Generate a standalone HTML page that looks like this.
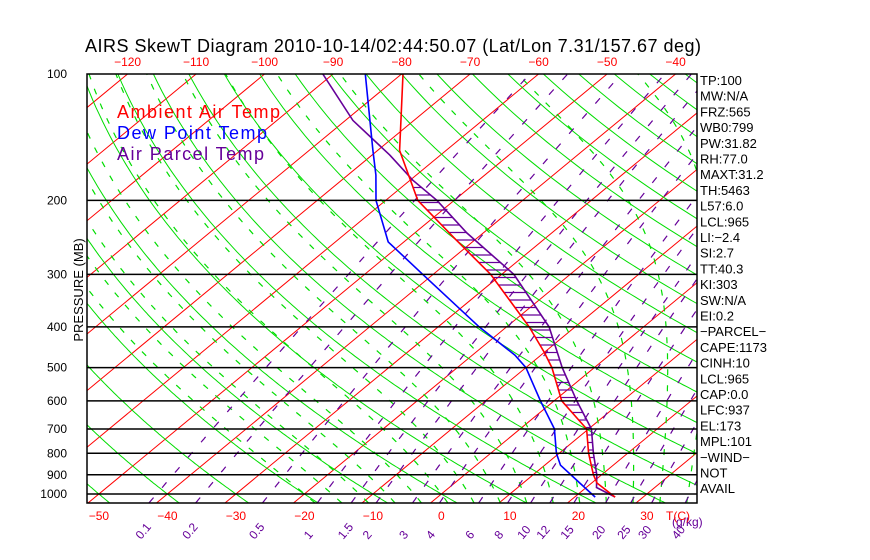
<!DOCTYPE html>
<html><head><meta charset="utf-8">
<style>
html,body{margin:0;padding:0;background:#fff;}
svg{display:block;font-family:"Liberation Sans",sans-serif;}
</style></head>
<body>
<svg id="chart" width="870" height="560" viewBox="0 0 870 560">
<text x="85" y="52" font-size="18" textLength="616" lengthAdjust="spacing" fill="#000">AIRS SkewT Diagram 2010-10-14/02:44:50.07 (Lat/Lon 7.31/157.67 deg)</text>
<defs><clipPath id="plotclip"><rect x="87" y="74" width="610" height="429"/></clipPath></defs>
<g id="grid" clip-path="url(#plotclip)"></g>
<g id="series" clip-path="url(#plotclip)"></g>
<g id="frame"></g>
<g id="labels"></g>
<text x="117" y="118" font-size="18" textLength="163" lengthAdjust="spacing" fill="#ff0000">Ambient Air Temp</text>
<text x="117" y="139" font-size="18" textLength="150" lengthAdjust="spacing" fill="#0000ff">Dew Point Temp</text>
<text x="117" y="160" font-size="18" textLength="147" lengthAdjust="spacing" fill="#660099">Air Parcel Temp</text>
<text transform="translate(83,290) rotate(-90)" text-anchor="middle" font-size="13" fill="#000">PRESSURE (MB)</text>
<g id="side"></g>
</svg>
<script>
// ---- data ----
const pressureTicks = [100,200,300,400,500,600,700,800,900,1000];
const topTempTicks = [-120,-110,-100,-90,-80,-70,-60,-50,-40];
const bottomTempTicks = [-50,-40,-30,-20,-10,0,10,20,30];
const mixingRatios = [0.1,0.2,0.5,1,1.5,2,3,4,6,8,10,12,15,20,25,30,40];
const envPressure = [100,152,200,248,300,400,460,500,600,700,800,900,942,1017];
const envTemp = [-79.8,-66.8,-55.3,-42.8,-31.6,-16.7,-10,-6.2,1.1,9.7,14.3,18.8,20.8,25.9];
const dewPressure = [100,152,174,200,251,300,400,467,500,600,700,800,854,942,1017];
const dewTemp = [-85.3,-70.7,-65.9,-61.4,-52.3,-41.5,-24,-13.8,-10,-2,5,9.6,12.3,18.3,23];
const parcelPressure = [100,129,156,179,200,239,300,400,500,600,700,800,900,965,1017];
const parcelTemp = [-91.5,-78.9,-67.4,-59.6,-52.5,-42.4,-28.2,-13.8,-4.7,3.3,10.4,15,19.3,21.5,25.9];
const indexLabels = ["TP:100","MW:N/A","FRZ:565","WB0:799","PW:31.82","RH:77.0","MAXT:31.2","TH:5463","L57:6.0","LCL:965","LI:-2.4","SI:2.7","TT:40.3","KI:303","SW:N/A","EI:0.2","-PARCEL-","CAPE:1173","CINH:10","LCL:965","CAP:0.0","LFC:937","EL:173","MPL:101","-WIND-"," NOT","AVAIL"];

// ---- axes ----
const Y0=74, DEC=420, BOT=503, LEFT=87, RIGHT=697;
function yP(p){return Y0+DEC*Math.log10(p/100);}
function xT(t,p){return 88+(t+50)*6.85+(BOT-yP(p))*1.21;}
const NS="http://www.w3.org/2000/svg";
function mk(tag,attrs,parent){const e=document.createElementNS(NS,tag);for(const k in attrs)e.setAttribute(k,attrs[k]);parent.appendChild(e);return e;}
const grid=document.getElementById('grid'), series=document.getElementById('series'),frame=document.getElementById('frame'),labels=document.getElementById('labels'),side=document.getElementById('side');
const pLevels=[];for(let p=1050;p>=99;p-=5)pLevels.push(p);
function polyStr(fn){return pLevels.map(p=>xT(fn(p),p).toFixed(1)+','+yP(p).toFixed(1)).join(' ');}

// isotherms
for(let t=-170;t<=50;t+=10){
  const l=mk('line',{x1:xT(t,1050),y1:yP(1050),x2:xT(t,100),y2:yP(100),stroke:'#ff0000','stroke-width':1},grid);
  
  
}
// dry adiabats
for(let th=-50;th<=200;th+=10){
  const l=mk('polyline',{points:polyStr(p=>(th+273.15)*Math.pow(p/1000,0.286)-273.15),fill:'none',stroke:'#00dd00','stroke-width':1},grid);
  
  
}
// moist adiabats
function lapse(T,p){
  const es=6.112*Math.exp(17.67*(T-273.15)/(T-273.15+243.5));
  const rs=0.622*es/(p-es);
  const Rd=287,cp=1005,L=2.5e6;
  return (Rd*T+L*rs)/(p*(cp+L*L*rs*0.622/(Rd*T*T)));
}
function moist(t0){
  let T=t0+273.15;
  for(let pp=1000;pp<1050;pp+=5){T+=5*lapse(T,pp);}
  const out=[];let p=1050;
  while(p>=100){out.push([T-273.15,p]);T-=5*lapse(T,p);p-=5;}
  return out;
}
for(let t0=-20;t0<=40;t0+=4){
  const m=moist(t0);
  const l=mk('polyline',{points:m.map(a=>xT(a[0],a[1]).toFixed(1)+','+yP(a[1]).toFixed(1)).join(' '),fill:'none',stroke:'#00dd00','stroke-width':1.2,'stroke-dasharray':'6,10'},grid);
  
  
}
// mixing ratio lines
function tMix(r,p){const e=r*p/(622+r);const a=Math.log(e/6.112);return 243.5*a/(17.67-a);}
mixingRatios.forEach(r=>{
  const l=mk('polyline',{points:polyStr(p=>tMix(r,p)),fill:'none',stroke:'#660099','stroke-width':1.2,'stroke-dasharray':'7,13'},grid);
  
  
  const x=xT(tMix(r,1050),1050);
  const tx=mk('text',{transform:`translate(${(x-8).toFixed(1)},540) rotate(-50)`,'font-size':12,fill:'#660099'},labels);
  tx.textContent=String(r);
  
  
});
const mu=mk('text',{x:672,y:526,'font-size':12,fill:'#660099'},labels);mu.textContent='(g/kg)';



// pressure lines + labels
pressureTicks.forEach(p=>{
  if(p>100){
    const l=mk('line',{x1:LEFT,x2:RIGHT,y1:yP(p),y2:yP(p),stroke:'#000','stroke-width':1.5},frame);
    
    
  }
  const t=mk('text',{x:67,y:yP(p)+4,'text-anchor':'end','font-size':12,fill:'#000'},labels);
  t.textContent=String(p);
  
  
});
const box=mk('rect',{x:LEFT,y:Y0,width:RIGHT-LEFT,height:BOT-Y0,fill:'none',stroke:'#000','stroke-width':1.5},frame);


topTempTicks.forEach(t=>{
  const e=mk('text',{x:xT(t,100),y:66,'text-anchor':'middle','font-size':12,fill:'#ff0000'},labels);
  e.textContent=String(t).replace('-','\u2212');
  
  
});
bottomTempTicks.forEach(t=>{
  const e=mk('text',{x:xT(t,1000),y:520,'text-anchor':'middle','font-size':12,fill:'#ff0000'},labels);
  e.textContent=String(t).replace('-','\u2212');
  
  
});
const tc=mk('text',{x:666,y:520,'font-size':12,fill:'#ff0000'},labels);tc.textContent='T(C)';



// profiles
function pts(P,T){return P.map((p,i)=>[xT(T[i],p),yP(p)]);}
const envPts=pts(envPressure,envTemp), parPts=pts(parcelPressure,parcelTemp), dewPts=pts(dewPressure,dewTemp);
function xAt(arr,y){for(let i=0;i<arr.length-1;i++){const a=arr[i],b=arr[i+1];if(y>=a[1]&&y<=b[1]){return a[0]+(b[0]-a[0])*(y-a[1])/(b[1]-a[1]);}}return null;}
for(let y=180;y<=495;y+=7.5){
  const xe=xAt(envPts,y),xp=xAt(parPts,y);
  if(xe!==null&&xp!==null&&xp>xe+1){
    const h=mk('line',{x1:xe,x2:xp,y1:y,y2:y,stroke:'#660099','stroke-width':1.2},series);
    
    
  }
}
function drawLine(arr,color,name){
  const l=mk('polyline',{points:arr.map(a=>a[0].toFixed(1)+','+a[1].toFixed(1)).join(' '),fill:'none',stroke:color,'stroke-width':1.6},series);
  
  
}
drawLine(parPts,'#660099','parcel-temp-line');
drawLine(envPts,'#ff0000','ambient-temp-line');
drawLine(dewPts,'#0000ff','dew-point-line');

// side indices
indexLabels.forEach((s,i)=>{
  const t=mk('text',{x:700,y:85+i*15.7,'font-size':13,fill:'#000','xml:space':'preserve'},side);
  t.textContent=s.replace(/-/g,'\u2212');
  
  
});
</script>
</body></html>
